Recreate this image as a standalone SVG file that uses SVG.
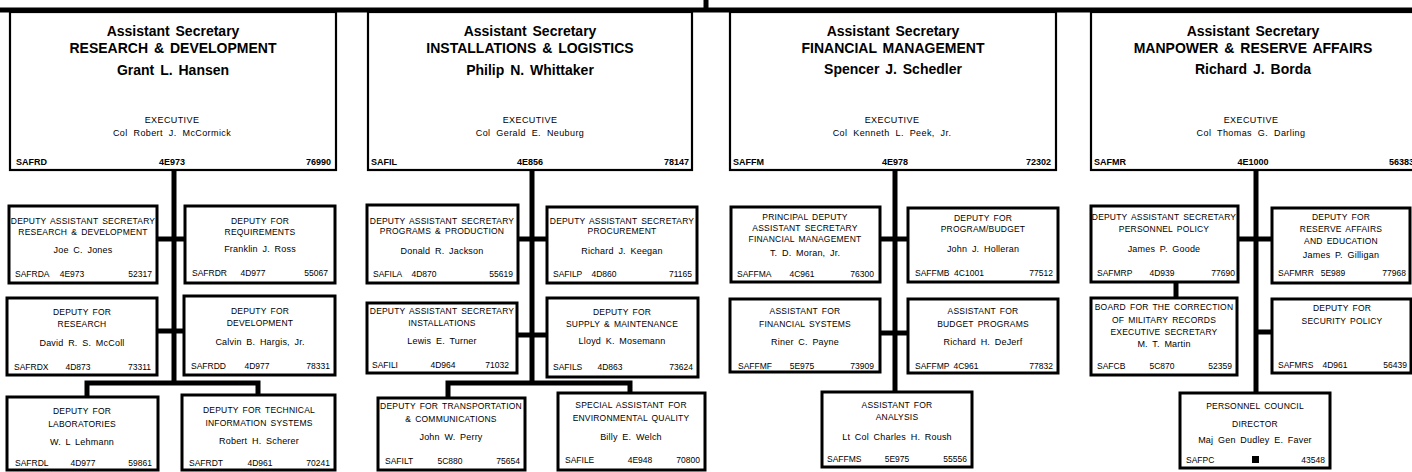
<svg xmlns="http://www.w3.org/2000/svg" width="1412" height="472" viewBox="0 0 1412 472">
<style>
.bm{fill:#fff;stroke:#000;stroke-width:2.2}
.b{fill:#fff;stroke:#000;stroke-width:3}
.w{stroke:#000;fill:none;stroke-width:5}
.h{font-family:"Liberation Sans",Arial,sans-serif;font-weight:bold;font-size:14px;text-anchor:middle;word-spacing:2px}
.x{font-family:"Liberation Sans",Arial,sans-serif;font-size:9px;text-anchor:middle;letter-spacing:0.4px;word-spacing:3px}
.mc{font-family:"Liberation Sans",Arial,sans-serif;font-size:9px;font-weight:bold}
.s{font-family:"Liberation Sans",Arial,sans-serif;font-size:8.5px;text-anchor:middle;letter-spacing:0.2px;word-spacing:1.5px}
.n{font-size:9px;word-spacing:2px}
.k{font-family:"Liberation Sans",Arial,sans-serif;font-size:8.5px}
.m{text-anchor:middle}.e{text-anchor:end}
</style>
<rect x="0" y="0" width="1412" height="472" fill="#fff"/>
<g id="connectors">
<line class="w" x1="0" y1="10" x2="1412" y2="10"/>
<line class="w" x1="706" y1="0" x2="706" y2="10" stroke-width="4"/>
<line class="w" x1="174" y1="170" x2="174" y2="383"/>
<line class="w" x1="157" y1="239" x2="185" y2="239" stroke-width="8"/>
<line class="w" x1="157" y1="331" x2="184" y2="331" stroke-width="7"/>
<path class="w" d="M87 397 V383 H258 V395"/>
<line class="w" x1="532" y1="170" x2="532" y2="383"/>
<line class="w" x1="518" y1="239" x2="547" y2="239" stroke-width="8"/>
<line class="w" x1="517" y1="335" x2="547" y2="335" stroke-width="7"/>
<path class="w" d="M448 398 V383 H630 V393"/>
<line class="w" x1="895" y1="170" x2="895" y2="392"/>
<line class="w" x1="880" y1="239" x2="908" y2="239" stroke-width="8"/>
<line class="w" x1="880" y1="333" x2="908" y2="333" stroke-width="7"/>
<line class="w" x1="1256" y1="170" x2="1256" y2="393"/>
<line class="w" x1="1238" y1="239" x2="1272" y2="239" stroke-width="8"/>
<line class="w" x1="1256" y1="332" x2="1272" y2="332" stroke-width="7"/>
<line class="w" x1="1176" y1="282" x2="1176" y2="298"/>
</g>
<g id="asrd">
<rect class="bm" x="10" y="12" width="326" height="158"/>
<text class="h" x="173" y="36">Assistant Secretary</text>
<text class="h" x="173" y="53">RESEARCH &amp; DEVELOPMENT</text>
<text class="h" x="173" y="75">Grant L. Hansen</text>
<text class="x" x="172" y="123">EXECUTIVE</text>
<text class="x" x="172" y="136">Col Robert J. McCormick</text>
<text class="mc" x="16" y="165">SAFRD</text>
<text class="mc m" x="172" y="165">4E973</text>
<text class="mc e" x="331" y="165">76990</text>
</g>
<g id="asil">
<rect class="bm" x="368" y="12" width="324" height="158"/>
<text class="h" x="530" y="36">Assistant Secretary</text>
<text class="h" x="530" y="53">INSTALLATIONS &amp; LOGISTICS</text>
<text class="h" x="530" y="75">Philip N. Whittaker</text>
<text class="x" x="530" y="123">EXECUTIVE</text>
<text class="x" x="530" y="136">Col Gerald E. Neuburg</text>
<text class="mc" x="371" y="165">SAFIL</text>
<text class="mc m" x="530" y="165">4E856</text>
<text class="mc e" x="689" y="165">78147</text>
</g>
<g id="asfm">
<rect class="bm" x="730" y="12" width="326" height="158"/>
<text class="h" x="893" y="36">Assistant Secretary</text>
<text class="h" x="893" y="53">FINANCIAL MANAGEMENT</text>
<text class="h" x="893" y="74">Spencer J. Schedler</text>
<text class="x" x="892" y="123">EXECUTIVE</text>
<text class="x" x="892" y="136">Col Kenneth L. Peek, Jr.</text>
<text class="mc" x="733" y="165">SAFFM</text>
<text class="mc m" x="895" y="165">4E978</text>
<text class="mc e" x="1051" y="165">72302</text>
</g>
<g id="asmr">
<rect class="bm" x="1091" y="12" width="330" height="158"/>
<text class="h" x="1253" y="36">Assistant Secretary</text>
<text class="h" x="1253" y="53">MANPOWER &amp; RESERVE AFFAIRS</text>
<text class="h" x="1253" y="74">Richard J. Borda</text>
<text class="x" x="1251" y="123">EXECUTIVE</text>
<text class="x" x="1251" y="136">Col Thomas G. Darling</text>
<text class="mc" x="1094" y="165">SAFMR</text>
<text class="mc m" x="1253" y="165">4E1000</text>
<text class="mc e" x="1414" y="165">56383</text>
</g>
<g id="safrda">
<rect class="b" x="9" y="206" width="148" height="77"/>
<text class="s" x="83" y="224">DEPUTY ASSISTANT SECRETARY</text>
<text class="s" x="83" y="235">RESEARCH &amp; DEVELOPMENT</text>
<text class="s n" x="83" y="253">Joe C. Jones</text>
<text class="k" x="15" y="277">SAFRDA</text><text class="k m" x="72" y="277">4E973</text><text class="k e" x="152" y="277">52317</text>
</g>
<g id="safrdr">
<rect class="b" x="185" y="206" width="150" height="77"/>
<text class="s" x="260" y="224">DEPUTY FOR</text>
<text class="s" x="260" y="235">REQUIREMENTS</text>
<text class="s n" x="260" y="252">Franklin J. Ross</text>
<text class="k" x="192" y="276">SAFRDR</text><text class="k m" x="253" y="276">4D977</text><text class="k e" x="328" y="276">55067</text>
</g>
<g id="safrdx">
<rect class="b" x="7" y="298" width="150" height="77"/>
<text class="s" x="82" y="315">DEPUTY FOR</text>
<text class="s" x="82" y="327">RESEARCH</text>
<text class="s n" x="82" y="346">David R. S. McColl</text>
<text class="k" x="14" y="370">SAFRDX</text><text class="k m" x="78" y="370">4D873</text><text class="k e" x="151" y="370">73311</text>
</g>
<g id="safrdd">
<rect class="b" x="184" y="296" width="151" height="79"/>
<text class="s" x="260" y="314">DEPUTY FOR</text>
<text class="s" x="260" y="326">DEVELOPMENT</text>
<text class="s n" x="260" y="345">Calvin B. Hargis, Jr.</text>
<text class="k" x="191" y="369">SAFRDD</text><text class="k m" x="257" y="369">4D977</text><text class="k e" x="330" y="369">78331</text>
</g>
<g id="safrdl">
<rect class="b" x="7" y="397" width="151" height="73"/>
<text class="s" x="82" y="414">DEPUTY FOR</text>
<text class="s" x="82" y="427">LABORATORIES</text>
<text class="s n" x="82" y="445">W. L Lehmann</text>
<text class="k" x="15" y="466">SAFRDL</text><text class="k m" x="83" y="466">4D977</text><text class="k e" x="152" y="466">59861</text>
</g>
<g id="safrdt">
<rect class="b" x="182" y="395" width="153" height="75"/>
<text class="s" x="259" y="413">DEPUTY FOR TECHNICAL</text>
<text class="s" x="259" y="426">INFORMATION SYSTEMS</text>
<text class="s n" x="259" y="444">Robert H. Scherer</text>
<text class="k" x="189" y="466">SAFRDT</text><text class="k m" x="260" y="466">4D961</text><text class="k e" x="330" y="466">70241</text>
</g>
<g id="safila">
<rect class="b" x="367" y="205" width="151" height="78"/>
<text class="s" x="442" y="224">DEPUTY ASSISTANT SECRETARY</text>
<text class="s" x="442" y="234">PROGRAMS &amp; PRODUCTION</text>
<text class="s n" x="442" y="254">Donald R. Jackson</text>
<text class="k" x="373" y="277">SAFILA</text><text class="k m" x="424" y="277">4D870</text><text class="k e" x="513" y="277">55619</text>
</g>
<g id="safilp">
<rect class="b" x="547" y="207" width="150" height="76"/>
<text class="s" x="622" y="224">DEPUTY ASSISTANT SECRETARY</text>
<text class="s" x="622" y="234">PROCUREMENT</text>
<text class="s n" x="622" y="254">Richard J. Keegan</text>
<text class="k" x="553" y="277">SAFILP</text><text class="k m" x="604" y="277">4D860</text><text class="k e" x="692" y="277">71165</text>
</g>
<g id="safili">
<rect class="b" x="367" y="303" width="150" height="70"/>
<text class="s" x="442" y="314">DEPUTY ASSISTANT SECRETARY</text>
<text class="s" x="442" y="326">INSTALLATIONS</text>
<text class="s n" x="442" y="344">Lewis E. Turner</text>
<text class="k" x="372" y="368">SAFILI</text><text class="k m" x="443" y="368">4D964</text><text class="k e" x="509" y="368">71032</text>
</g>
<g id="safils">
<rect class="b" x="547" y="298" width="151" height="79"/>
<text class="s" x="622" y="315">DEPUTY FOR</text>
<text class="s" x="622" y="327">SUPPLY &amp; MAINTENANCE</text>
<text class="s n" x="622" y="344">Lloyd K. Mosemann</text>
<text class="k" x="553" y="370">SAFILS</text><text class="k m" x="610" y="370">4D863</text><text class="k e" x="693" y="370">73624</text>
</g>
<g id="safilt">
<rect class="b" x="378" y="398" width="147" height="72"/>
<text class="s" x="451" y="409">DEPUTY FOR TRANSPORTATION</text>
<text class="s" x="451" y="422">&amp; COMMUNICATIONS</text>
<text class="s n" x="451" y="440">John W. Perry</text>
<text class="k" x="385" y="464">SAFILT</text><text class="k m" x="450" y="464">5C880</text><text class="k e" x="520" y="464">75654</text>
</g>
<g id="safile">
<rect class="b" x="558" y="393" width="147" height="77"/>
<text class="s" x="631" y="408">SPECIAL ASSISTANT FOR</text>
<text class="s" x="631" y="421">ENVIRONMENTAL QUALITY</text>
<text class="s n" x="631" y="440">Billy E. Welch</text>
<text class="k" x="565" y="463">SAFILE</text><text class="k m" x="640" y="463">4E948</text><text class="k e" x="700" y="463">70800</text>
</g>
<g id="saffma">
<rect class="b" x="731" y="207" width="149" height="75"/>
<text class="s" x="805" y="220">PRINCIPAL DEPUTY</text>
<text class="s" x="805" y="231">ASSISTANT SECRETARY</text>
<text class="s" x="805" y="242">FINANCIAL MANAGEMENT</text>
<text class="s n" x="805" y="256">T. D. Moran, Jr.</text>
<text class="k" x="737" y="277">SAFFMA</text><text class="k m" x="802" y="277">4C961</text><text class="k e" x="874" y="277">76300</text>
</g>
<g id="saffmb">
<rect class="b" x="908" y="208" width="150" height="74"/>
<text class="s" x="983" y="221">DEPUTY FOR</text>
<text class="s" x="983" y="232">PROGRAM/BUDGET</text>
<text class="s n" x="983" y="252">John J. Holleran</text>
<text class="k" x="915" y="276">SAFFMB</text><text class="k m" x="969" y="276">4C1001</text><text class="k e" x="1053" y="276">77512</text>
</g>
<g id="saffmf">
<rect class="b" x="730" y="299" width="150" height="73"/>
<text class="s" x="805" y="314">ASSISTANT FOR</text>
<text class="s" x="805" y="327">FINANCIAL SYSTEMS</text>
<text class="s n" x="805" y="345">Riner C. Payne</text>
<text class="k" x="738" y="369">SAFFMF</text><text class="k m" x="802" y="369">5E975</text><text class="k e" x="874" y="369">73909</text>
</g>
<g id="saffmp">
<rect class="b" x="908" y="299" width="150" height="74"/>
<text class="s" x="983" y="314">ASSISTANT FOR</text>
<text class="s" x="983" y="327">BUDGET PROGRAMS</text>
<text class="s n" x="983" y="345">Richard H. DeJerf</text>
<text class="k" x="915" y="369">SAFFMP</text><text class="k m" x="966" y="369">4C961</text><text class="k e" x="1053" y="369">77832</text>
</g>
<g id="saffms">
<rect class="b" x="822" y="392" width="150" height="75"/>
<text class="s" x="897" y="408">ASSISTANT FOR</text>
<text class="s" x="897" y="420">ANALYSIS</text>
<text class="s n" x="897" y="440">Lt Col Charles H. Roush</text>
<text class="k" x="827" y="462">SAFFMS</text><text class="k m" x="897" y="462">5E975</text><text class="k e" x="967" y="462">55556</text>
</g>
<g id="safmrp">
<rect class="b" x="1091" y="206" width="147" height="76"/>
<text class="s" x="1164" y="220">DEPUTY ASSISTANT SECRETARY</text>
<text class="s" x="1164" y="232">PERSONNEL POLICY</text>
<text class="s n" x="1164" y="252">James P. Goode</text>
<text class="k" x="1097" y="276">SAFMRP</text><text class="k m" x="1162" y="276">4D939</text><text class="k e" x="1235" y="276">77690</text>
</g>
<g id="safmrr">
<rect class="b" x="1272" y="208" width="138" height="75"/>
<text class="s" x="1341" y="220">DEPUTY FOR</text>
<text class="s" x="1341" y="232">RESERVE AFFAIRS</text>
<text class="s" x="1341" y="244">AND EDUCATION</text>
<text class="s n" x="1341" y="258">James P. Gilligan</text>
<text class="k" x="1278" y="276">SAFMRR</text><text class="k m" x="1333" y="276">5E989</text><text class="k e" x="1406" y="276">77968</text>
</g>
<g id="safcb">
<rect class="b" x="1091" y="298" width="146" height="77"/>
<text class="s" x="1164" y="310">BOARD FOR THE CORRECTION</text>
<text class="s" x="1164" y="323">OF MILITARY RECORDS</text>
<text class="s" x="1164" y="335">EXECUTIVE SECRETARY</text>
<text class="s n" x="1164" y="347">M. T. Martin</text>
<text class="k" x="1097" y="369">SAFCB</text><text class="k m" x="1162" y="369">5C870</text><text class="k e" x="1232" y="369">52359</text>
</g>
<g id="safmrs">
<rect class="b" x="1272" y="299" width="139" height="74"/>
<text class="s" x="1342" y="311">DEPUTY FOR</text>
<text class="s" x="1342" y="324">SECURITY POLICY</text>
<text class="k" x="1278" y="368">SAFMRS</text><text class="k m" x="1335" y="368">4D961</text><text class="k e" x="1407" y="368">56439</text>
</g>
<g id="safpc">
<rect class="b" x="1180" y="393" width="150" height="75"/>
<text class="s" x="1255" y="409">PERSONNEL COUNCIL</text>
<text class="s" x="1255" y="427">DIRECTOR</text>
<text class="s n" x="1255" y="443">Maj Gen Dudley E. Faver</text>
<text class="k" x="1186" y="463">SAFPC</text>
<rect x="1252" y="456" width="7" height="7" fill="#000"/>
<text class="k e" x="1325" y="463">43548</text>
</g>
</svg>
